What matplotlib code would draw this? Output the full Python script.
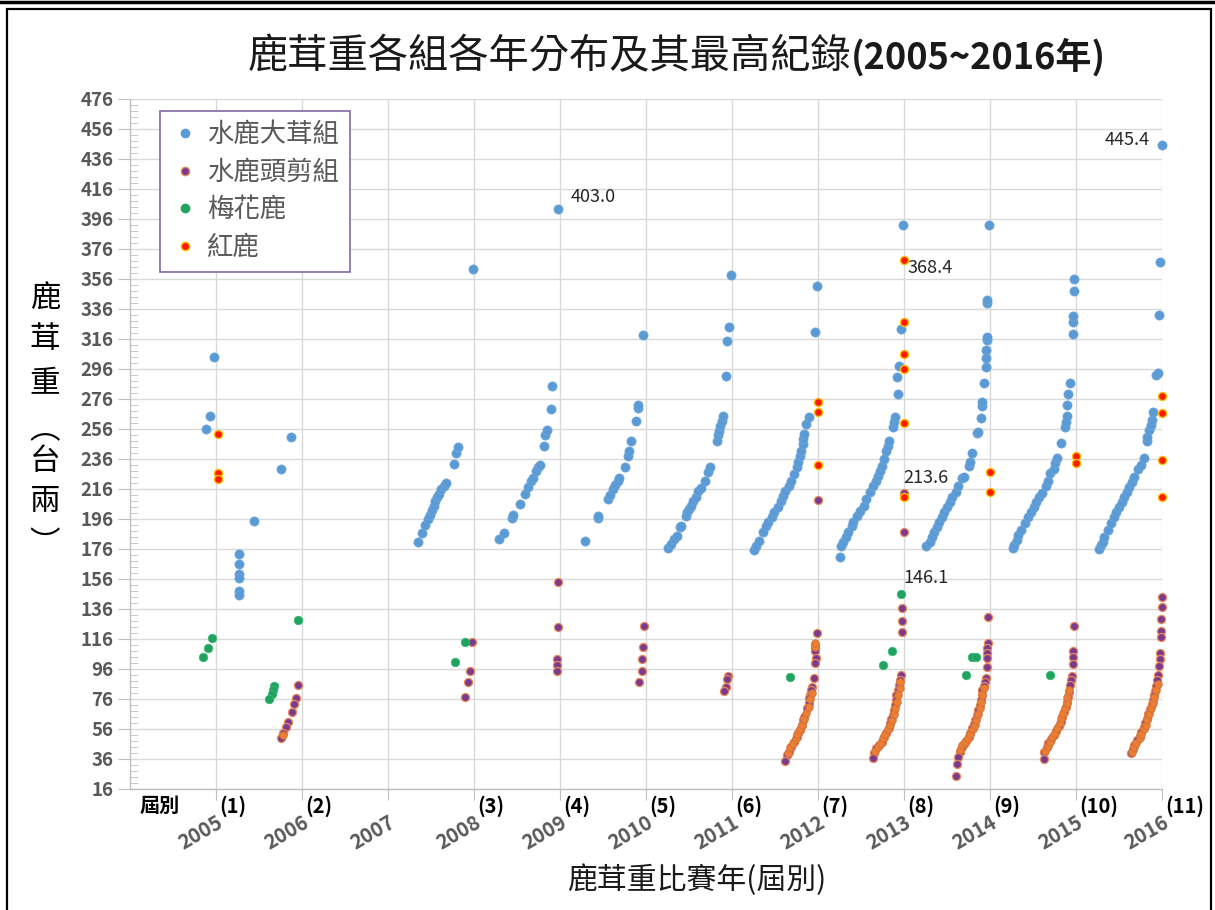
import matplotlib
matplotlib.use("Agg")
import matplotlib.pyplot as plt
from matplotlib.lines import Line2D
from matplotlib.patches import Rectangle

plt.rcParams['font.family'] = ['Noto Sans CJK TC', 'DejaVu Sans']

# ---- data: (year position, weight in 台兩) ----
blue_2005 = [(2004.98, 304), (2004.93, 264.7), (2004.88, 256), (2005.44, 194.7), (2005.27, 173),
             (2005.27, 166), (2005.27, 159.3), (2005.27, 156.7), (2005.27, 148), (2005.27, 145.5)]
blue_2006 = [(2005.87, 250.7), (2005.76, 229.3)]
blue_2008 = [(2007.35, 181), (2007.40, 187), (2007.43, 192), (2007.46, 196), (2007.49, 199),
             (2007.51, 202), (2007.53, 205), (2007.55, 208), (2007.57, 211), (2007.59, 213),
             (2007.62, 216), (2007.65, 218), (2007.67, 220), (2007.77, 233), (2007.79, 240),
             (2007.81, 244), (2007.99, 363)]
blue_2009 = [(2008.29, 182.4), (2008.35, 186.7), (2008.44, 196.9), (2008.45, 198.7), (2008.53, 205.8),
             (2008.59, 212.7), (2008.63, 217.3), (2008.66, 221.1), (2008.69, 223.6), (2008.72, 228.2),
             (2008.74, 230.5), (2008.77, 231.8), (2008.81, 244.5), (2008.83, 252.2), (2008.85, 255.5),
             (2008.89, 269.5), (2008.91, 284.8), (2008.98, 403.0)]
blue_2010 = [(2009.29, 181.1), (2009.44, 196.9), (2009.44, 198.2), (2009.56, 209.6), (2009.58, 212.2),
             (2009.62, 216), (2009.64, 218.5), (2009.67, 221.6), (2009.69, 223.6), (2009.75, 230.5),
             (2009.79, 238.2), (2009.80, 241.5), (2009.82, 247.8), (2009.88, 261.1), (2009.91, 270),
             (2009.91, 272), (2009.96, 318.4)]
blue_2011 = [(2010.26, 176.5), (2010.29, 179.3), (2010.32, 182.7), (2010.36, 184.9), (2010.40, 190.4),
             (2010.41, 191.6), (2010.47, 198.2), (2010.48, 200.4), (2010.50, 202.7), (2010.52, 204.9),
             (2010.55, 208.2), (2010.58, 210.9), (2010.61, 214.4), (2010.64, 216.7), (2010.69, 221.6),
             (2010.72, 227.1), (2010.74, 230.4), (2010.82, 248.2), (2010.84, 252.2), (2010.85, 254.9),
             (2010.86, 258.2), (2010.88, 261.6), (2010.90, 264.9), (2010.93, 291.6), (2010.94, 314.9),
             (2010.97, 324.2), (2010.99, 358.9)]
blue_2012 = [(2011.25, 175.6), (2011.28, 178.2), (2011.31, 181.6), (2011.36, 187.1), (2011.39, 191.6),
             (2011.42, 193.8), (2011.46, 197.1), (2011.49, 200.4), (2011.53, 203.8), (2011.57, 208.2),
             (2011.59, 211.6), (2011.62, 214.4), (2011.66, 218.2), (2011.69, 221.6), (2011.72, 226),
             (2011.75, 230.4), (2011.77, 233.8), (2011.79, 238.2), (2011.80, 241.6), (2011.82, 246),
             (2011.82, 249.3), (2011.84, 252.7), (2011.86, 259.3), (2011.89, 264.2), (2011.96, 320.4),
             (2011.99, 351.6)]
blue_2013 = [(2012.25, 170.9), (2012.27, 178.2), (2012.29, 180.4), (2012.32, 183.8), (2012.35, 187.1),
             (2012.39, 191.6), (2012.41, 193.8), (2012.45, 198.2), (2012.49, 201.6), (2012.53, 204.9),
             (2012.56, 209.3), (2012.60, 213.8), (2012.64, 218.2), (2012.68, 221.6), (2012.70, 224.9),
             (2012.72, 228.2), (2012.74, 231.6), (2012.77, 236), (2012.79, 241.6), (2012.81, 244.9),
             (2012.83, 248.2), (2012.87, 257.1), (2012.88, 260.4), (2012.90, 263.8), (2012.93, 279.3),
             (2012.92, 290.9), (2012.94, 298.2), (2012.97, 322.7), (2012.99, 392)]
blue_2014 = [(2013.26, 178), (2013.30, 180.9), (2013.32, 184.2), (2013.35, 187.6), (2013.38, 190.9),
             (2013.41, 194.2), (2013.44, 197.6), (2013.47, 200.9), (2013.50, 204.2), (2013.53, 207.6),
             (2013.56, 210.9), (2013.60, 214.2), (2013.63, 218), (2013.67, 223.1), (2013.70, 224.2),
             (2013.76, 231.3), (2013.77, 234.2), (2013.79, 240.2), (2013.85, 253.1), (2013.86, 254.2),
             (2013.89, 263.6), (2013.91, 271.3), (2013.91, 274.2), (2013.93, 286.9), (2013.95, 297.1),
             (2013.95, 303.1), (2013.95, 308.7), (2013.96, 315.3), (2013.97, 317.1), (2013.97, 340.2),
             (2013.97, 342), (2013.99, 392)]
blue_2015 = [(2014.27, 176.5), (2014.28, 178.7), (2014.31, 182), (2014.33, 185.3), (2014.36, 188.7),
             (2014.41, 193.6), (2014.44, 197.6), (2014.48, 200.9), (2014.51, 204.2), (2014.54, 207.6),
             (2014.57, 210.9), (2014.61, 213.6), (2014.65, 218), (2014.68, 221.6), (2014.70, 226.4),
             (2014.74, 229.1), (2014.76, 233.1), (2014.78, 236.4), (2014.82, 246.4), (2014.87, 257.6),
             (2014.88, 260.9), (2014.89, 264.7), (2014.90, 272), (2014.91, 279.3), (2014.93, 286.9),
             (2014.96, 319.3), (2014.96, 327.6), (2014.97, 331.3), (2014.98, 348.2), (2014.98, 356)]
blue_2016 = [(2015.27, 175.8), (2015.29, 178.7), (2015.31, 180.9), (2015.33, 184.2), (2015.37, 188.7),
             (2015.41, 193.1), (2015.44, 197.1), (2015.47, 200.9), (2015.50, 204.2), (2015.53, 207.6),
             (2015.56, 210.9), (2015.59, 214.2), (2015.62, 217.6), (2015.65, 220.9), (2015.68, 224.2),
             (2015.72, 229.1), (2015.75, 232), (2015.79, 236.4), (2015.83, 248.2), (2015.83, 250.9),
             (2015.85, 255.3), (2015.87, 258.7), (2015.88, 262), (2015.90, 267.6), (2015.93, 292),
             (2015.95, 293.1), (2015.97, 332), (2015.98, 367.1), (2016.0, 445.4)]

purple_2006 = [(2005.95, 85.3), (2005.93, 76.7), (2005.91, 72.7), (2005.88, 67.3), (2005.84, 60.7),
               (2005.81, 57.3), (2005.78, 53.3), (2005.76, 50)]
purple_2008 = [(2007.98, 114), (2007.95, 95), (2007.93, 87.3), (2007.90, 77.2)]
purple_2009 = [(2008.98, 154.3), (2008.98, 124.2), (2008.96, 102.5), (2008.96, 98.7), (2008.96, 94.9)]
purple_2010 = [(2009.98, 124.8), (2009.97, 111), (2009.95, 102.5), (2009.95, 94.9), (2009.92, 87.3)]
purple_2011 = [(2010.95, 91.6), (2010.94, 89.3), (2010.93, 83.8), (2010.91, 81.6)]
purple_2012 = [(2012.0, 208.7), (2011.99, 120.2), (2011.97, 112), (2011.97, 109.8), (2011.97, 107.9),
               (2011.98, 103.1), (2011.96, 100.2), (2011.95, 89.8), (2011.93, 84.2), (2011.92, 82),
               (2011.91, 78.7), (2011.90, 76.4), (2011.89, 73.1), (2011.87, 69.8), (2011.84, 64.2),
               (2011.82, 62), (2011.81, 58.7), (2011.79, 55.3), (2011.77, 53.1), (2011.75, 50.9),
               (2011.72, 47.6), (2011.69, 44.2), (2011.66, 40.9), (2011.64, 38.7), (2011.62, 34.9)]
purple_2013 = [(2013.0, 213.6), (2013.0, 187.6), (2012.98, 136.4), (2012.98, 128), (2012.98, 120.4),
               (2012.96, 92), (2012.95, 88.7), (2012.94, 85.3), (2012.93, 82), (2012.91, 78.7),
               (2012.91, 75.3), (2012.89, 72), (2012.88, 68.7), (2012.87, 65.3), (2012.85, 62.4),
               (2012.84, 59.8), (2012.82, 56.4), (2012.79, 53.6), (2012.77, 50.9), (2012.74, 47.6),
               (2012.71, 45.3), (2012.68, 43.1), (2012.65, 40.2), (2012.64, 36.4)]
purple_2014 = [(2013.98, 130.4), (2013.98, 113.6), (2013.97, 109.8), (2013.97, 106.4), (2013.96, 103.6),
               (2013.96, 97.1), (2013.95, 89.8), (2013.94, 87.6), (2013.93, 84.7), (2013.91, 82),
               (2013.91, 78.7), (2013.89, 75.3), (2013.88, 72), (2013.86, 68.7), (2013.85, 65.3),
               (2013.83, 62), (2013.81, 59.3), (2013.79, 56.4), (2013.77, 53.6), (2013.75, 50.9),
               (2013.72, 48.2), (2013.70, 46), (2013.67, 43.8), (2013.65, 40.9), (2013.63, 37.6),
               (2013.62, 32.7), (2013.61, 24.7)]
purple_2015 = [(2014.98, 124.7), (2014.97, 108.2), (2014.97, 104.2), (2014.96, 99.3), (2014.95, 91.3),
               (2014.94, 88.7), (2014.93, 85.3), (2014.92, 80.9), (2014.91, 77.6), (2014.89, 74.2),
               (2014.88, 70.9), (2014.86, 67.6), (2014.84, 64.2), (2014.82, 60.9), (2014.80, 58.2),
               (2014.77, 54.9), (2014.74, 52), (2014.71, 49.1), (2014.68, 46.4), (2014.66, 43.8),
               (2014.63, 40.9), (2014.63, 36)]
purple_2016 = [(2016.0, 144.2), (2016.0, 137.6), (2015.99, 129.1), (2015.99, 121.6), (2015.99, 117.6),
               (2015.98, 106.9), (2015.98, 102.4), (2015.96, 98), (2015.95, 92), (2015.94, 88.7),
               (2015.93, 84.7), (2015.92, 81.6), (2015.91, 78.7), (2015.89, 75.3), (2015.88, 72.7),
               (2015.86, 69.1), (2015.84, 66), (2015.82, 62.4), (2015.80, 59.8), (2015.79, 57.1),
               (2015.75, 54.2), (2015.74, 51.3), (2015.71, 48.7), (2015.68, 45.3), (2015.66, 42.4),
               (2015.64, 40.2)]

# orange-looking dots inside the dense 頭剪組 clusters
orange_2006 = [(2005.78, 52)]
orange_2012 = [(2011.65, 40.2), (2011.68, 43.8), (2011.71, 46.9), (2011.74, 49.8), (2011.76, 52.7),
               (2011.79, 55.8), (2011.81, 58.9), (2011.84, 62.4), (2011.86, 66.4), (2011.89, 70.9),
               (2011.91, 75.8), (2011.93, 80.2), (2011.97, 110.4), (2011.97, 113.1)]
orange_2013 = [(2012.66, 41.6), (2012.70, 44.2), (2012.73, 46.9), (2012.76, 49.8), (2012.78, 52.7),
               (2012.81, 55.8), (2012.84, 58.7), (2012.86, 62), (2012.88, 66), (2012.90, 69.8),
               (2012.92, 74.2), (2012.93, 78.7), (2012.95, 83.1), (2012.95, 87.6)]
orange_2014 = [(2013.65, 42), (2013.68, 45.1), (2013.71, 47.6), (2013.74, 49.8), (2013.77, 52.7),
               (2013.80, 55.8), (2013.82, 58.9), (2013.84, 62), (2013.86, 66), (2013.88, 69.8),
               (2013.89, 74.2), (2013.91, 78.7), (2013.93, 83.1)]
orange_2015 = [(2014.64, 41.6), (2014.67, 44.7), (2014.70, 47.6), (2014.72, 50.4), (2014.75, 53.6),
               (2014.78, 56.4), (2014.81, 59.8), (2014.83, 63.1), (2014.85, 66.4), (2014.87, 69.8),
               (2014.89, 73.6), (2014.90, 77.6), (2014.92, 82)]
orange_2016 = [(2015.65, 40.9), (2015.68, 43.8), (2015.70, 46.9), (2015.74, 49.8), (2015.76, 52.7),
               (2015.79, 55.8), (2015.81, 58.9), (2015.83, 62.4), (2015.85, 66), (2015.87, 69.8),
               (2015.89, 73.6), (2015.91, 77.6), (2015.93, 82), (2015.95, 86)]

green_2005 = [(2004.95, 116.7), (2004.91, 110), (2004.85, 104)]
green_2006 = [(2005.95, 128.7), (2005.67, 84.7), (2005.66, 82), (2005.65, 79.3), (2005.62, 76)]
green_2008 = [(2007.89, 114), (2007.78, 100.8)]
green_2012 = [(2011.68, 90.4)]
green_2013 = [(2012.97, 146.1), (2012.86, 108), (2012.75, 98.7)]
green_2014 = [(2013.72, 92), (2013.79, 103.8), (2013.84, 103.8)]
green_2015 = [(2014.70, 92)]

red_2005 = [(2005.02, 252.7), (2005.02, 226.7), (2005.02, 222.7)]
red_2012 = [(2012.0, 273.8), (2012.0, 267.1), (2012.0, 232.2)]
red_2013 = [(2013.0, 368.4), (2013.0, 327.1), (2013.0, 306), (2013.0, 296), (2013.0, 259.8), (2013.0, 210.9)]
red_2014 = [(2014.0, 227.6), (2014.0, 213.8)]
red_2015 = [(2015.0, 238), (2015.0, 233.6)]
red_2016 = [(2016.0, 278), (2016.0, 266.4), (2016.0, 235.3), (2016.0, 210.9)]

# record labels
records = [(2008.98, 403.0, "403.0"), (2016.0, 445.4, "445.4"), (2013.0, 368.4, "368.4"),
           (2013.0, 213.6, "213.6"), (2012.97, 146.1, "146.1")]

years = list(range(2005, 2017))
sessions = ["(1)", "(2)", "", "(3)", "(4)", "(5)", "(6)", "(7)", "(8)", "(9)", "(10)", "(11)"]

series_names = ["水鹿大茸組", "水鹿頭剪組", "梅花鹿", "紅鹿"]

blue = blue_2005 + blue_2006 + blue_2008 + blue_2009 + blue_2010 + blue_2011 + blue_2012 + blue_2013 + blue_2014 + blue_2015 + blue_2016
purple = purple_2006 + purple_2008 + purple_2009 + purple_2010 + purple_2011 + purple_2012 + purple_2013 + purple_2014 + purple_2015 + purple_2016
orange = orange_2006 + orange_2012 + orange_2013 + orange_2014 + orange_2015 + orange_2016
green = green_2005 + green_2006 + green_2008 + green_2012 + green_2013 + green_2014 + green_2015
red = red_2005 + red_2012 + red_2013 + red_2014 + red_2015 + red_2016

C_BLUE = '#5B9BD5'
C_PURPLE = '#7A3B8F'
C_ORANGE = '#ED7D31'
C_GREEN = '#1FA35E'
C_RED = '#FF1A00'

W, H = 1215, 910
fig = plt.figure(figsize=(W / 100, H / 100), dpi=100)
ax = fig.add_axes([130 / W, 1 - 789 / H, 1032 / W, 690 / H])


def pts(lst):
    return [p[0] for p in lst], [p[1] for p in lst]


x, y = pts(blue)
ax.scatter(x, y, s=44, color=C_BLUE, edgecolors='#6FA6DA', linewidths=0.5, zorder=3, clip_on=False)
x, y = pts(purple)
ax.scatter(x, y, s=34, color=C_PURPLE, edgecolors='#E98A5A', linewidths=0.9, zorder=4, clip_on=False)
x, y = pts(orange)
ax.scatter(x, y, s=30, color=C_ORANGE, edgecolors='#C8703F', linewidths=0.5, zorder=4.5, clip_on=False)
x, y = pts(green)
ax.scatter(x, y, s=38, color=C_GREEN, edgecolors='#3DB877', linewidths=0.5, zorder=5, clip_on=False)
x, y = pts(red)
ax.scatter(x, y, s=34, color=C_RED, edgecolors='#FFC000', linewidths=1.0, zorder=6, clip_on=False)

ax.set_xlim(2004, 2016)
ax.set_ylim(16, 476)
ax.set_yticks(range(16, 477, 20))
ax.set_yticks([v for v in range(16, 477, 4) if (v - 16) % 20], minor=True)
ax.set_xticks(years)
ax.set_xticklabels([str(v) for v in years], rotation=30, ha='right', va='top',
                   rotation_mode='anchor', fontsize=14.5, fontweight='bold', color='#595959')
for lab in ax.get_yticklabels():
    lab.set_fontweight('bold')
ax.tick_params(axis='y', which='major', direction='out', length=9, color='#BFBFBF',
               labelsize=13.5, labelcolor='#595959', pad=3)
ax.tick_params(axis='y', which='minor', direction='in', length=6, color='#BFBFBF')
ax.tick_params(axis='x', which='major', direction='out', length=8, color='#BFBFBF', pad=8)
ax.grid(True, which='major', color='#D9D9D9', lw=1.0, zorder=0)
ax.set_axisbelow(True)
for s in ['top', 'right']:
    ax.spines[s].set_visible(False)
for s in ['left', 'bottom']:
    ax.spines[s].set_color('#BFBFBF')
    ax.spines[s].set_linewidth(1.0)

# session numbers next to each year line
for yr, lab in zip(years, sessions):
    if lab:
        ax.annotate(lab, xy=(yr, 0), xycoords=('data', 'axes fraction'), xytext=(3, -6),
                    textcoords='offset pixels', ha='left', va='top', fontsize=14.5,
                    fontweight='bold', color='black')
ax.annotate("屆別", xy=(2004, 0), xycoords=('data', 'axes fraction'), xytext=(10, -6),
            textcoords='offset pixels', ha='left', va='top', fontsize=14.5,
            fontweight='bold', color='black')

# record value labels
offsets = {"403.0": (12, 12, 'left'), "445.4": (-12, 5, 'right'), "368.4": (4, -8, 'left'),
           "213.6": (-1, 15, 'left'), "146.1": (2, 16, 'left')}
for xr, vr, txt in records:
    dx, dy, ha = offsets[txt]
    ax.annotate(txt, xy=(xr, vr), xytext=(dx, dy), textcoords='offset pixels',
                ha=ha, va='center', fontsize=13, color='#262626', zorder=7)

handles = [Line2D([], [], ls='none', marker='o', ms=6, mfc=C_BLUE, mec=C_BLUE),
           Line2D([], [], ls='none', marker='o', ms=6, mfc=C_PURPLE, mec='#E98A5A'),
           Line2D([], [], ls='none', marker='o', ms=6, mfc=C_GREEN, mec=C_GREEN),
           Line2D([], [], ls='none', marker='o', ms=6, mfc=C_RED, mec='#FFC000')]
leg = ax.legend(handles, series_names, loc='upper left', bbox_to_anchor=(0.029, 0.983),
                borderaxespad=0, frameon=True, fancybox=False, framealpha=1,
                prop={'size': 19}, labelspacing=0.4, handletextpad=0.3,
                handlelength=1.1, borderpad=0.4, labelcolor='#595959')
leg.get_frame().set_edgecolor('#7F6A9F')
leg.get_frame().set_linewidth(1.2)

# titles
fig.text(851 / W, 1 - 57 / H, "鹿茸重各組各年分布及其最高紀錄", ha='right', va='center',
         fontsize=29, color='#1A1A1A')
fig.text(851 / W, 1 - 57 / H, "(2005~2016年)", ha='left', va='center',
         fontsize=26, fontweight='bold', color='#1A1A1A')
fig.text(697 / W, 1 - 880 / H, "鹿茸重比賽年(屆別)", ha='center', va='center',
         fontsize=21.5, color='#1A1A1A')
ylab_chars = ["鹿", "茸", "重", "︵", "台", "兩", "︶"]
ylab_pos = [298, 340, 384, 430, 462, 502, 544]
for ch, yp in zip(ylab_chars, ylab_pos):
    fig.text(45 / W, 1 - yp / H, ch, ha='center', va='center', fontsize=22, color='black')

# frame around picture
fig.add_artist(Line2D([0, 1], [1 - 2 / H, 1 - 2 / H], color='black', lw=2.5,
                      transform=fig.transFigure))
fig.add_artist(Rectangle((7 / W, -0.01), 1204 / W, 1 - 9 / H + 0.01, fill=False,
                         ec='black', lw=1.6, transform=fig.transFigure))

fig.savefig("out.png", dpi=100)
